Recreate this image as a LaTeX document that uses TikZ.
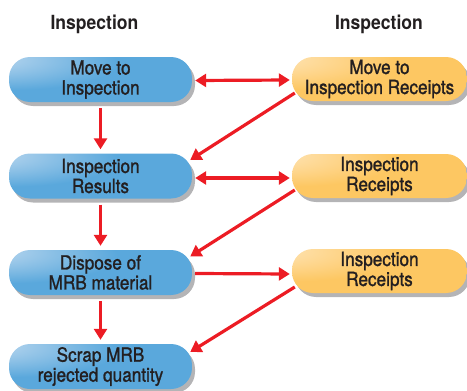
\documentclass[tikz,border=0pt]{standalone}
\usepackage{fontspec}
\setmainfont{TeX Gyre Heros}[FakeStretch=0.9]
\newfontfamily\boxfont{TeX Gyre Heros}[FakeStretch=0.88, FakeBold=1.2]
\usetikzlibrary{arrows.meta,calc,shadows}
\definecolor{bbase}{HTML}{5AA8DC}
\definecolor{blight}{HTML}{CADFF2}
\definecolor{obase}{HTML}{FDC762}
\definecolor{olight}{HTML}{FFE9C4}
\definecolor{txt}{HTML}{231F20}
\definecolor{arrred}{HTML}{EC1C24}
\definecolor{shgray}{HTML}{B4B4B6}
\pgfdeclareradialshading{bshade}{\pgfpoint{-36bp}{26bp}}{color(0bp)=(blight);color(30bp)=(bbase);color(100bp)=(bbase)}
\pgfdeclareradialshading{oshade}{\pgfpoint{-36bp}{26bp}}{color(0bp)=(olight);color(30bp)=(obase);color(100bp)=(obase)}
\tikzset{
  boxbase/.style={rectangle, rounded corners=21pt, inner sep=0pt, align=center,
    text=txt, font=\boxfont\fontsize{19.5}{20}\selectfont,
    drop shadow={shadow xshift=3pt, shadow yshift=-4pt, fill=shgray, opacity=1}},
  lbox/.style={boxbase, shading=bshade, minimum width=183pt, minimum height=45pt},
  rbox/.style={boxbase, shading=oshade, minimum width=175pt, minimum height=44pt},
  head/.style={text=txt, font=\fontsize{19.5}{20}\selectfont\bfseries, inner sep=0pt},
  arr/.style={draw=arrred, line width=3.2pt, -{Triangle[length=11pt,width=13pt]}},
  darr/.style={draw=arrred, line width=3.2pt, {Triangle[length=11pt,width=13pt]}-{Triangle[length=11pt,width=13pt]}}
}
\begin{document}
\begin{tikzpicture}[x=1pt,y=-1pt]
\useasboundingbox (0,0) rectangle (467,391);
\clip (0,0) rectangle (467,391);
\node[head] (h1) at (94.5,24.5) {Inspection};
\node[head] (h2) at (379,24.5) {Inspection};
\node[lbox] (l1) at (100.5,79.5) {Move to\\Inspection};
\node[lbox] (l2) at (100.5,176) {Inspection\\Results};
\node[lbox] (l3) at (100.5,272.5) {Dispose of\\MRB material};
\node[lbox] (l4) at (100.5,366.5) {Scrap MRB\\rejected quantity};
\node[rbox] (r1) at (379.5,79) {Move to\\Inspection Receipts};
\node[rbox] (r2) at (379.5,176) {Inspection\\Receipts};
\node[rbox] (r3) at (379.5,271) {Inspection\\Receipts};
\draw[darr] ($(l1.east)+(3,1)$) -- ($(r1.west)+(-2,1)$);
\draw[darr] ($(l2.east)+(3,2)$) -- ($(r2.west)+(-2,2)$);
\draw[arr] ($(l3.east)+(3,1)$) -- ($(r3.west)+(-2,3)$);
\draw[arr] ($(l1.south)+(0,6)$) -- ($(l2.north)+(0,-4)$);
\draw[arr] ($(l2.south)+(0,6)$) -- ($(l3.north)+(0,-4)$);
\draw[arr] ($(l3.south)+(0,6)$) -- ($(l4.north)+(0,-4)$);
\draw[arr] ($(r1.west)+(3,14)$) -- ($(l2.east)+(-2,-16)$);
\draw[arr] ($(r2.west)+(3,14)$) -- ($(l3.east)+(-2,-16)$);
\draw[arr] ($(r3.west)+(3,16)$) -- ($(l4.east)+(-2,-14.5)$);
\end{tikzpicture}
\end{document}
